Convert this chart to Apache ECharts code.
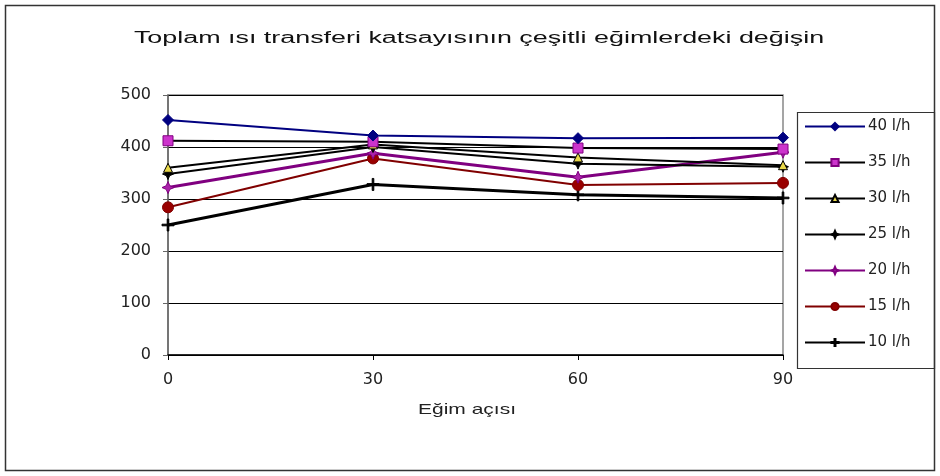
<!DOCTYPE html>
<html>
<head>
<meta charset="utf-8">
<script src="https://cdn.jsdelivr.net/npm/echarts@6/dist/echarts.min.js"></script>
<style>
  html, body { margin: 0; padding: 0; background: #fff; }
  #chart { width: 940px; height: 476px; }
</style>
</head>
<body>
<div id="chart"></div>
<script>
// Eğim açısı (derece)
const angles = [0, 30, 60, 90];

// Toplam ısı transferi katsayısı, debiye göre
const seriesNames = ['40 l/h', '35 l/h', '30 l/h', '25 l/h', '20 l/h', '15 l/h', '10 l/h'];
const flow40 = [452, 422, 417, 418];
const flow35 = [412, 410, 398, 396];
const flow30 = [360, 405, 380, 365];
const flow25 = [348, 400, 368, 362];
const flow20 = [322, 388, 342, 390];
const flow15 = [284, 378, 327, 331];
const flow10 = [250, 328, 308, 302];

const yTicks = [0, 100, 200, 300, 400, 500];

const titleText = 'Toplam ısı transferi katsayısının çeşitli eğimlerdeki değişin';
const xAxisTitle = 'Eğim açısı';

const STAR = 'path://M0,-5L1.5,-1.5L5,0L1.5,1.5L0,5L-1.5,1.5L-5,0L-1.5,-1.5Z';
const PLUS = 'path://M-0.8,-6H0.8V-0.8H6V0.8H0.8V6H-0.8V0.8H-6V-0.8H-0.8Z';

const styles = [
  { data: flow40, line: '#000080', width: 2, symbol: 'diamond', size: 11, fill: '#000080', border: '#000080' },
  { data: flow35, line: '#000000', width: 2, symbol: 'rect', size: 10, fill: '#cc33cc', border: '#800080' },
  { data: flow30, line: '#000000', width: 2, symbol: 'triangle', size: 9, fill: '#e8d84a', border: '#000000' },
  { data: flow25, line: '#000000', width: 2, symbol: STAR, size: 11, fill: '#000000', border: '#000000' },
  { data: flow20, line: '#800080', width: 3, symbol: STAR, size: 12, fill: '#aa22aa', border: '#800080' },
  { data: flow15, line: '#800000', width: 2, symbol: 'circle', size: 11, fill: '#990000', border: '#800000' },
  { data: flow10, line: '#000000', width: 3, symbol: PLUS, size: 12, fill: '#000000', border: '#000000' }
];

const FONT = '"DejaVu Sans", "Liberation Sans", sans-serif';

const chart = echarts.init(document.getElementById('chart'));

const series = styles.map((s, i) => ({
  name: seriesNames[i],
  type: 'line',
  data: angles.map((a, j) => [a, s.data[j]]),
  symbol: s.symbol,
  symbolSize: s.size,
  showAllSymbol: true,
  lineStyle: { color: s.line, width: s.width },
  itemStyle: { color: s.fill, borderColor: s.border, borderWidth: 1 },
  z: 10 - i
}));

chart.setOption({
  animation: false,
  backgroundColor: '#ffffff',
  textStyle: { fontFamily: FONT },
  graphic: [
    {
      type: 'rect',
      shape: { x: 5.5, y: 5.5, width: 929, height: 465 },
      style: { fill: 'none', stroke: '#333', lineWidth: 1.5 },
      silent: true
    },
    {
      type: 'rect',
      shape: { x: 168, y: 95, width: 615, height: 260 },
      style: { fill: 'none', stroke: '#888', lineWidth: 1.5 },
      silent: true,
      z: -1
    },
    {
      type: 'rect',
      shape: { x: 797.5, y: 112.5, width: 137, height: 256 },
      style: { fill: '#fff', stroke: '#333', lineWidth: 1.2 },
      silent: true,
      z: -2
    },
    {
      type: 'text',
      x: 479,
      y: 39,
      scaleX: 1.68,
      style: {
        text: titleText,
        font: '16px "Liberation Sans", Arial, sans-serif',
        fill: '#111',
        textAlign: 'center',
        textVerticalAlign: 'middle'
      },
      silent: true
    },
    {
      type: 'text',
      x: 467,
      y: 410,
      scaleX: 1.4,
      style: {
        text: xAxisTitle,
        font: '15px "Liberation Sans", Arial, sans-serif',
        fill: '#222',
        textAlign: 'center',
        textVerticalAlign: 'middle'
      },
      silent: true
    }
  ],
  legend: {
    orient: 'vertical',
    left: 804,
    top: 118,
    padding: 0,
    itemGap: 19,
    itemWidth: 60,
    itemHeight: 9,
    textStyle: { fontSize: 15, color: '#222', lineHeight: 17, padding: [0, 0, 0, -2] },
    data: seriesNames
  },
  grid: { left: 168, right: 157, top: 95, bottom: 121 },
  xAxis: {
    type: 'value',
    min: angles[0],
    max: angles[angles.length - 1],
    interval: 30,
    axisLine: { lineStyle: { color: '#000', width: 1.5 } },
    axisTick: { show: true, length: 5, lineStyle: { color: '#000' } },
    axisLabel: { fontSize: 16, color: '#222', margin: 17 },
    splitLine: { show: false }
  },
  yAxis: {
    type: 'value',
    min: yTicks[0],
    max: yTicks[yTicks.length - 1],
    interval: 100,
    axisLine: { show: true, lineStyle: { color: '#666', width: 1.5 } },
    axisTick: { show: true, length: 5, lineStyle: { color: '#666' } },
    axisLabel: { fontSize: 16, color: '#222', margin: 17 },
    splitLine: { show: true, lineStyle: { color: '#000', width: 1.2 } }
  },
  series: series
});
</script>
</body>
</html>
